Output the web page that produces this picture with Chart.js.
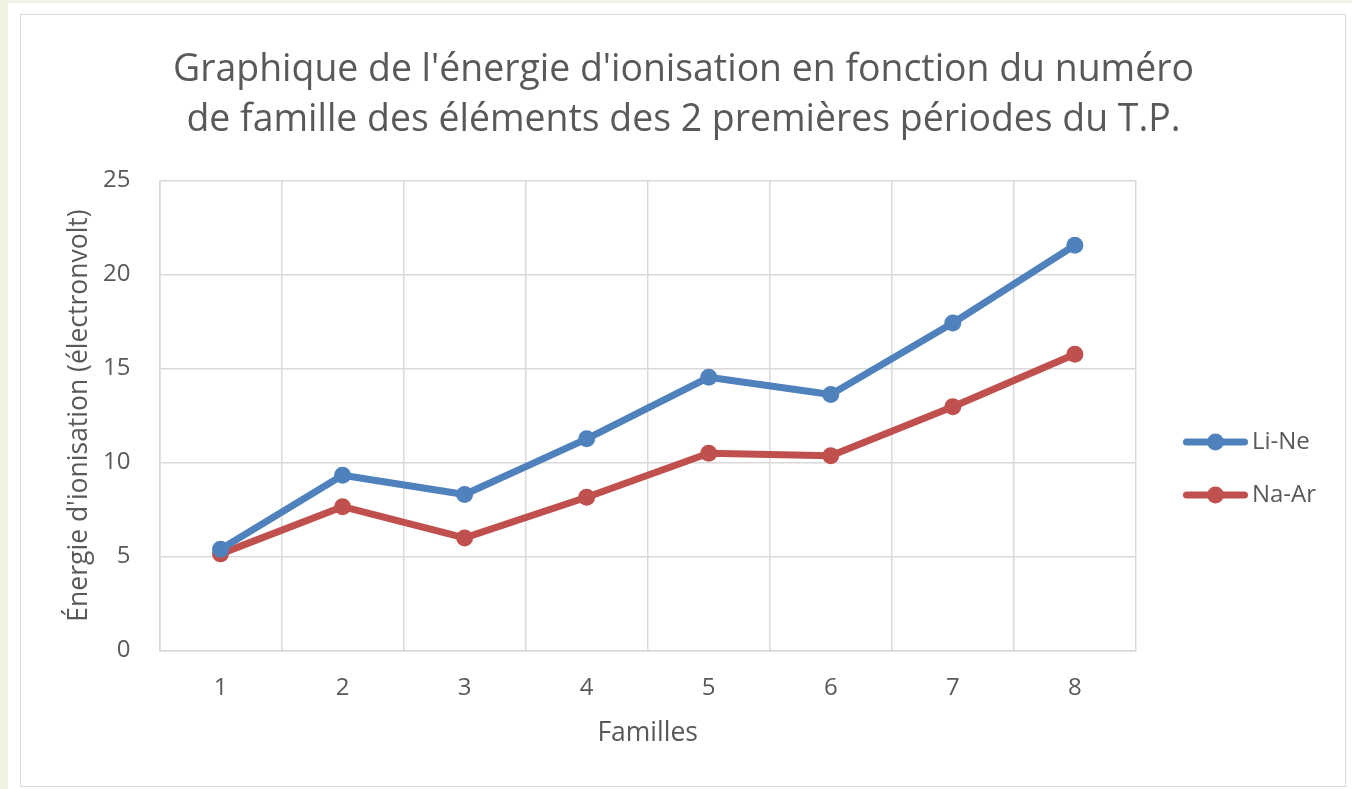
<!DOCTYPE html>
<html>
<head>
<meta charset="utf-8">
<script src="https://cdn.jsdelivr.net/npm/chart.js@4"></script>
<style>
    html, body { margin: 0; padding: 0; }
    body { width: 1352px; height: 789px; background: #eef2e0; position: relative; overflow: hidden; }
    .sheet { position: absolute; left: 8px; top: 3px; right: 0; bottom: 0; background: #fff; }
    .frame { position: absolute; left: 20px; top: 14px; width: 1324px; height: 771px; border: 1.5px solid #d9d9d9; background: #fff; }
    #ionChart { position: absolute; left: 0; top: 0; }
</style>
</head>
<body>
<div class="sheet"></div>
<div class="frame">
    <canvas id="ionChart" width="1324" height="771"></canvas>
</div>
<script>
const familles = ['1', '2', '3', '4', '5', '6', '7', '8'];
const liNe = [5.39, 9.32, 8.30, 11.26, 14.53, 13.62, 17.42, 21.56];
const naAr = [5.14, 7.65, 5.99, 8.15, 10.49, 10.36, 12.97, 15.76];
const yTicks = [0, 5, 10, 15, 20, 25];

const gridColor = '#d9d9d9';
const textColor = '#595959';
const fontFamily = "'Open Sans', 'Noto Sans', sans-serif";

// line + dot swatch like the Excel legend (left part of the image is left blank on purpose)
function legendSwatch(color) {
    const c = document.createElement('canvas');
    c.width = 91;
    c.height = 20;
    const g = c.getContext('2d');
    g.strokeStyle = color;
    g.lineWidth = 7;
    g.lineCap = 'round';
    g.beginPath();
    g.moveTo(29.5, 10);
    g.lineTo(87.5, 10);
    g.stroke();
    g.fillStyle = color;
    g.beginPath();
    g.arc(58.5, 10, 8.5, 0, Math.PI * 2);
    g.fill();
    return c;
}

const series = [
    { label: 'Li-Ne', data: liNe, color: '#4f81bd' },
    { label: 'Na-Ar', data: naAr, color: '#c0504d' }
];

new Chart(document.getElementById('ionChart'), {
    type: 'line',
    data: {
        labels: familles,
        datasets: series.map(s => ({
            label: s.label,
            data: s.data,
            borderColor: s.color,
            backgroundColor: s.color,
            borderWidth: 7,
            pointRadius: 8.5,
            pointHoverRadius: 8.5,
            pointBackgroundColor: s.color,
            pointBorderWidth: 0,
            tension: 0,
            borderCapStyle: 'round',
            borderJoinStyle: 'round',
            fill: false
        }))
    },
    options: {
        responsive: false,
        animation: false,
        layout: { padding: { left: 20, right: 19, top: 0, bottom: 10 } },
        plugins: {
            title: {
                display: true,
                text: [
                    "Graphique de l'énergie d'ionisation en fonction du numéro",
                    'de famille des éléments des 2 premières périodes du T.P.'
                ],
                color: textColor,
                font: { family: fontFamily, size: 37.4, weight: 'normal', lineHeight: 1.337 },
                padding: { top: 30, bottom: 35.5 }
            },
            legend: {
                position: 'right',
                title: {
                    display: true,
                    text: ' ',
                    font: { size: 10 },
                    padding: { top: 134, bottom: 0 }
                },
                labels: {
                    color: textColor,
                    font: { family: fontFamily, size: 24 },
                    usePointStyle: true,
                    pointStyleWidth: 75,
                    padding: 29,
                    generateLabels: chart => chart.data.datasets.map((ds, i) => ({
                        text: ds.label,
                        pointStyle: legendSwatch(ds.borderColor),
                        fillStyle: ds.borderColor,
                        strokeStyle: ds.borderColor,
                        lineWidth: 0,
                        fontColor: textColor,
                        datasetIndex: i
                    }))
                }
            },
            tooltip: { enabled: false }
        },
        scales: {
            x: {
                offset: true,
                grid: { offset: true, color: gridColor, lineWidth: 1.5, drawTicks: false },
                border: { color: gridColor, width: 1.5 },
                ticks: { color: textColor, font: { family: fontFamily, size: 24 }, padding: 23 },
                title: {
                    display: true,
                    text: 'Familles',
                    color: textColor,
                    font: { family: fontFamily, size: 26.5 },
                    padding: { top: 27, bottom: 27 }
                },
                afterFit: scale => { scale.height = 125.5; }
            },
            y: {
                min: 0,
                max: 25,
                afterBuildTicks: scale => { scale.ticks = yTicks.map(v => ({ value: v })); },
                grid: { color: gridColor, lineWidth: 1.5, drawTicks: false },
                border: { color: gridColor, width: 1.5 },
                ticks: { color: textColor, font: { family: fontFamily, size: 24 }, padding: 29 },
                title: {
                    display: true,
                    text: "Énergie d'ionisation (électronvolt)",
                    color: textColor,
                    font: { family: fontFamily, size: 26.5 },
                    padding: { top: 23, bottom: 23 }
                },
                afterFit: scale => { scale.width = 118.5; }
            }
        }
    }
});
</script>
</body>
</html>
